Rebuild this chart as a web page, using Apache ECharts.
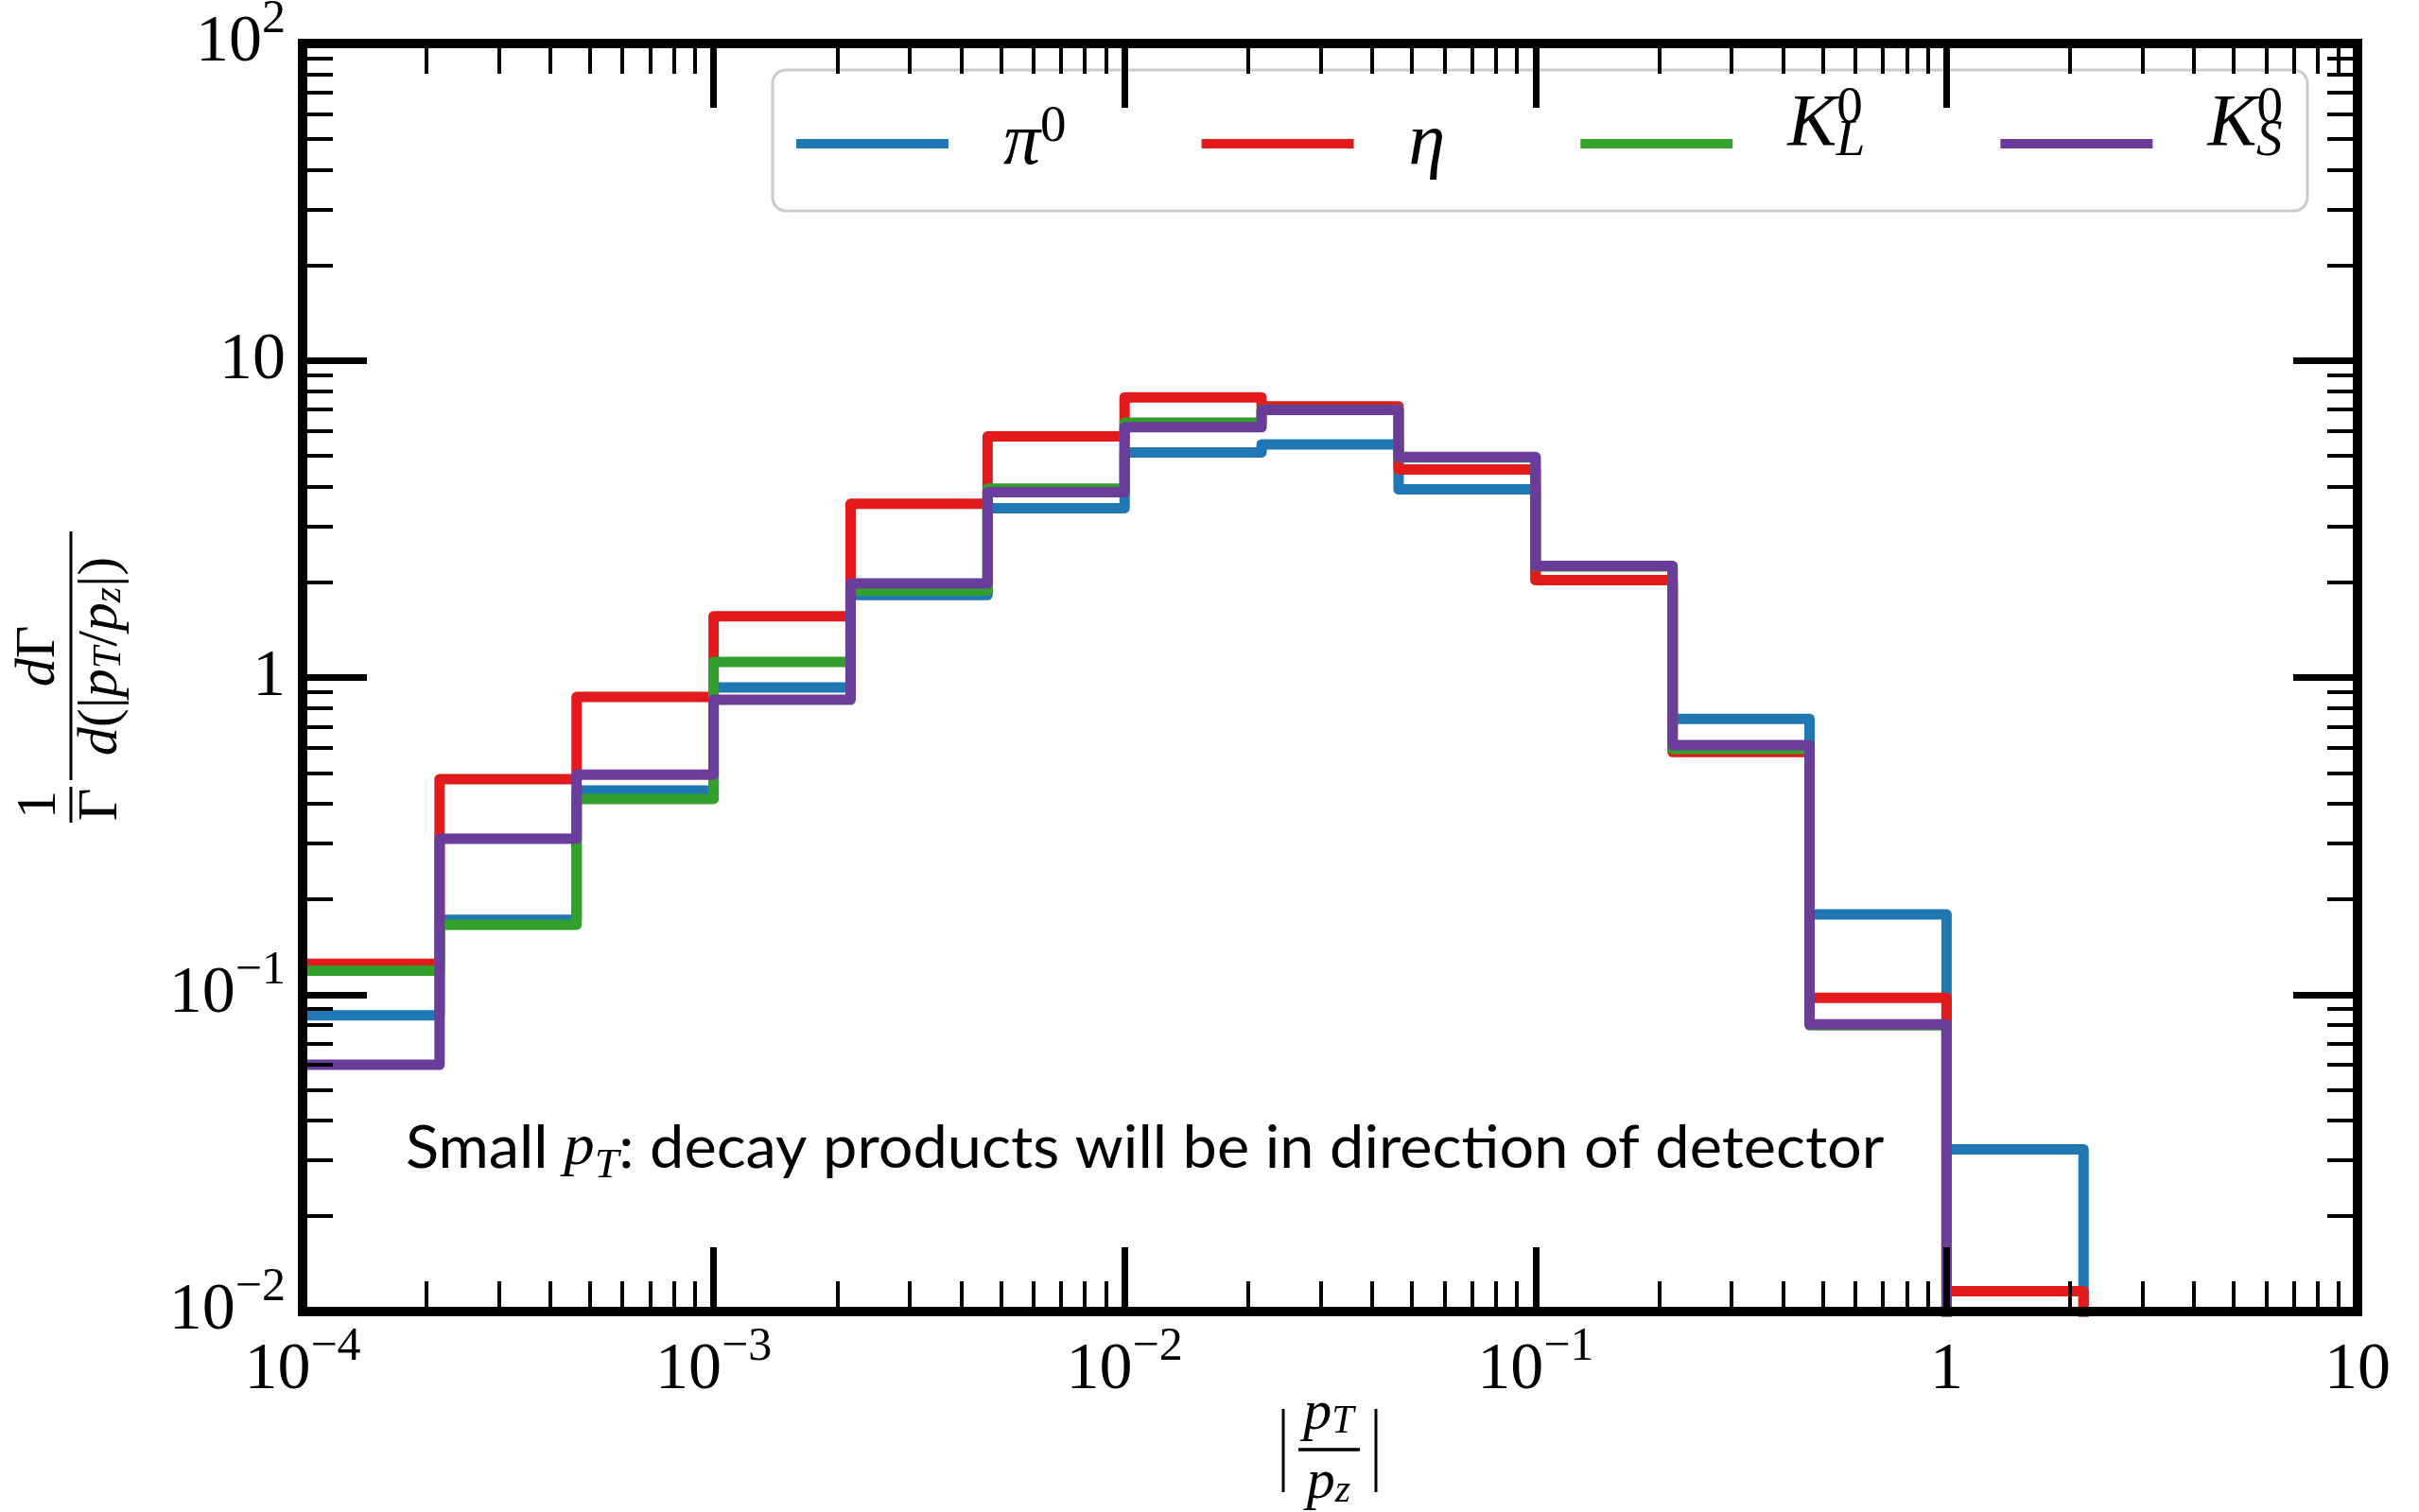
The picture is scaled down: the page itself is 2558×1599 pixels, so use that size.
<!DOCTYPE html>
<html>
<head>
<meta charset="utf-8">
<script src="https://cdn.jsdelivr.net/npm/echarts@6.0.0/dist/echarts.min.js"></script>
<style>
  html, body { margin: 0; padding: 0; background: #fff; }
  #main { width: 2558px; height: 1599px; }
</style>
</head>
<body>
<div id="main"></div>
<script>
// bin edges of |pT/pz| (3 bins per decade)
const binEdges = [0.0001, 0.00021544, 0.00046416, 0.001, 0.0021544, 0.0046416, 0.01, 0.021544, 0.046416, 0.1, 0.21544, 0.46416, 1, 2.1544, 4.6416, 10]

// 1/Gamma dGamma/d|pT/pz| per bin
const pi0 = [0.086, 0.172, 0.44, 0.93, 1.82, 3.42, 5.13, 5.44, 3.92, 2.03, 0.741, 0.179, 0.0325, 0, 0]
const eta = [0.125, 0.478, 0.868, 1.56, 3.53, 5.76, 7.65, 7.17, 4.53, 2.03, 0.582, 0.0977, 0.0116, 0, 0]
const kLong = [0.119, 0.166, 0.414, 1.12, 1.88, 3.94, 6.37, 7.0, 4.95, 2.24, 0.595, 0.08, 0, 0, 0]
const kShort = [0.06, 0.31, 0.494, 0.851, 1.98, 3.84, 6.16, 6.98, 4.96, 2.25, 0.612, 0.0805, 0, 0, 0]

const seriesNames = ['pi0', 'eta', 'KL', 'KS']
const seriesColors = ['#1f78b4', '#e31a1c', '#33a02c', '#6a3d9a']
const legendLabels = ['{m|π}{sup|0}', '{m|η}', '{m|K}{sup|0}{sub|L}', '{m|K}{sup|0}{sub|S}']
// K labels sit a bit higher than the line, pi/eta are centred on it
const legendLift = [0, 0, 40, 40]

// tick labels
const xTickValues = [0.0001, 0.001, 0.01, 0.1, 1, 10]
const xTickLabels = ['10^−4', '10^−3', '10^−2', '10^−1', '1', '10']
const yTickValues = [0.01, 0.1, 1, 10, 100]
const yTickLabels = ['10^−2', '10^−1', '1', '10', '10^2']

// minor ticks at 2..9 x 10^k
function minorTicks(lo, hi) {
  const out = []
  for (let e = lo; e < hi; e++) {
    for (let m = 2; m <= 9; m++) out.push(m * Math.pow(10, e))
  }
  return out
}
const xMinor = minorTicks(-4, 1)
const yMinor = minorTicks(-2, 2)

const ZERO = 1e-6 // empty bins drop below the axis
function stepData(vals) {
  const pts = vals.map((v, i) => [binEdges[i], v > 0 ? v : ZERO])
  pts.push([binEdges[vals.length], ZERO])
  return pts
}

const SERIF = "'Liberation Serif', 'DejaVu Serif', serif"
const tickRich = {
  b: { fontFamily: SERIF, fontSize: 70, lineHeight: 100, color: '#000' },
  e: { fontFamily: SERIF, fontSize: 50, lineHeight: 60, verticalAlign: 'top', color: '#000' }
}
function tickText(label) {
  const parts = label.split('^')
  return parts.length > 1 ? '{b|' + parts[0] + '}{e|' + parts[1] + '}' : '{b|' + parts[0] + '}'
}
function labelFor(values, labels) {
  return function (value) {
    const i = values.findIndex(t => Math.abs(Math.log10(t) - Math.log10(value)) < 1e-6)
    return i < 0 ? '' : tickText(labels[i])
  }
}

function majorAxis(pos, values, labels, showLabel) {
  return {
    type: 'log',
    logBase: 10,
    position: pos,
    z: 10,
    axisLine: { show: true, onZero: false, lineStyle: { color: '#000', width: 10, cap: 'square' } },
    axisTick: { show: true, inside: true, length: 68, customValues: values, lineStyle: { color: '#000', width: 7 } },
    axisLabel: {
      show: showLabel,
      customValues: values,
      margin: pos === 'bottom' ? 13 : 18,
      formatter: labelFor(values, labels),
      rich: tickRich
    },
    minorTick: { show: false },
    splitLine: { show: false }
  }
}
function minorAxis(pos, values) {
  return {
    type: 'log',
    logBase: 10,
    position: pos,
    z: 10,
    axisLine: { show: false },
    axisTick: { show: true, inside: true, length: 32, customValues: values, lineStyle: { color: '#000', width: 4 } },
    axisLabel: { show: false },
    splitLine: { show: false }
  }
}

const xAxes = [
  majorAxis('bottom', xTickValues, xTickLabels, true),
  majorAxis('top', xTickValues, xTickLabels, false),
  minorAxis('bottom', xMinor),
  minorAxis('top', xMinor)
].map(a => Object.assign(a, { min: 0.0001, max: 10 }))

const yAxes = [
  majorAxis('left', yTickValues, yTickLabels, true),
  majorAxis('right', yTickValues, yTickLabels, false),
  minorAxis('left', yMinor),
  minorAxis('right', yMinor)
].map(a => Object.assign(a, { min: 0.01, max: 100 }))

const allValues = [pi0, eta, kLong, kShort]

const mathRich = {
  i: { fontFamily: SERIF, fontStyle: 'italic', fontSize: 60, lineHeight: 60, color: '#000' },
  r: { fontFamily: SERIF, fontSize: 60, lineHeight: 60, color: '#000' },
  s: { fontFamily: SERIF, fontStyle: 'italic', fontSize: 42, lineHeight: 30, verticalAlign: 'bottom', color: '#000' }
}

const legendRich = {
  m: { fontFamily: SERIF, fontStyle: 'italic', fontSize: 78, lineHeight: 90, color: '#000' },
  sup: { fontFamily: SERIF, fontSize: 55, lineHeight: 60, verticalAlign: 'top', color: '#000' },
  sub: { fontFamily: SERIF, fontStyle: 'italic', fontSize: 55, lineHeight: 30, verticalAlign: 'bottom', padding: [0, 0, 0, -28], color: '#000' }
}

const option = {
  animation: false,
  backgroundColor: '#fff',
  grid: { left: 320, right: 65, top: 46, bottom: 212, containLabel: false, outerBoundsMode: 'none' },
  legend: {
    left: 817,
    top: 74,
    orient: 'horizontal',
    selectedMode: false,
    icon: 'rect',
    itemWidth: 161,
    itemHeight: 10,
    itemGap: 143,
    padding: [13, 26, 32, 25],
    borderColor: '#cccccc',
    borderWidth: 3,
    borderRadius: 14,
    backgroundColor: '#fff',
    data: seriesNames.map((name, k) => ({
      name: name,
      textStyle: { padding: [0, 0, legendLift[k], 53], rich: legendRich }
    })),
    formatter: function (name) {
      return legendLabels[seriesNames.indexOf(name)]
    },
    textStyle: { rich: legendRich }
  },
  xAxis: xAxes,
  yAxis: yAxes,
  series: seriesNames.map((name, k) => ({
    name: name,
    type: 'line',
    step: 'end',
    xAxisIndex: 0,
    yAxisIndex: 0,
    symbol: 'none',
    clip: true,
    color: seriesColors[k],
    lineStyle: { color: seriesColors[k], width: 11, join: 'round' },
    data: stepData(allValues[k])
  })),
  graphic: [
    // y axis title: 1/Gamma dGamma / d(|pT/pz|), rotated
    {
      type: 'group',
      x: 0,
      y: 873,
      rotation: Math.PI / 2,
      children: [
        { type: 'text', x: 22, y: 42, style: { text: '{r|1}', rich: mathRich, align: 'center', verticalAlign: 'middle' } },
        { type: 'line', shape: { x1: 3, y1: 75, x2: 41, y2: 75 }, style: { stroke: '#000', lineWidth: 3 } },
        { type: 'text', x: 22, y: 107, style: { text: '{r|Γ}', rich: mathRich, align: 'center', verticalAlign: 'middle' } },
        { type: 'text', x: 179, y: 41, style: { text: '{i|d}{r|Γ}', rich: mathRich, align: 'center', verticalAlign: 'middle' } },
        { type: 'line', shape: { x1: 48, y1: 75, x2: 311, y2: 75 }, style: { stroke: '#000', lineWidth: 3 } },
        { type: 'text', x: 179, y: 107, style: { text: '{i|d}{r|(|}{i|p}{s|T}{r|/}{i|p}{s|z}{r||)}', rich: mathRich, align: 'center', verticalAlign: 'middle' } }
      ]
    },
    // x axis title: |pT/pz|
    {
      type: 'group',
      children: [
        { type: 'line', shape: { x1: 1357, y1: 1490, x2: 1357, y2: 1578 }, style: { stroke: '#000', lineWidth: 3 } },
        { type: 'line', shape: { x1: 1455, y1: 1490, x2: 1455, y2: 1578 }, style: { stroke: '#000', lineWidth: 3 } },
        { type: 'line', shape: { x1: 1373, y1: 1533, x2: 1438, y2: 1533 }, style: { stroke: '#000', lineWidth: 3.5 } },
        { type: 'text', x: 1405, y: 1495, style: { text: '{i|p}{s|T}', rich: mathRich, align: 'center', verticalAlign: 'middle' } },
        { type: 'text', x: 1405, y: 1568, style: { text: '{i|p}{s|z}', rich: mathRich, align: 'center', verticalAlign: 'middle' } }
      ]
    },
    // annotation
    {
      type: 'text',
      x: 429,
      y: 1215,
      z: 20,
      scaleX: 1.046,
      style: {
        text: '{t|Small }{p|p}{s|T}{t|: decay products will be in direction of detector}',
        align: 'left',
        verticalAlign: 'middle',
        rich: {
          t: { fontFamily: 'Lato', fontSize: 62, lineHeight: 80, color: '#000' },
          p: { fontFamily: SERIF, fontStyle: 'italic', fontSize: 62, lineHeight: 80, color: '#000' },
          s: { fontFamily: SERIF, fontStyle: 'italic', fontSize: 44, lineHeight: 50, verticalAlign: 'bottom', color: '#000' }
        }
      }
    }
  ]
}

const chart = echarts.init(document.getElementById('main'))
chart.setOption(option)
</script>
</body>
</html>
